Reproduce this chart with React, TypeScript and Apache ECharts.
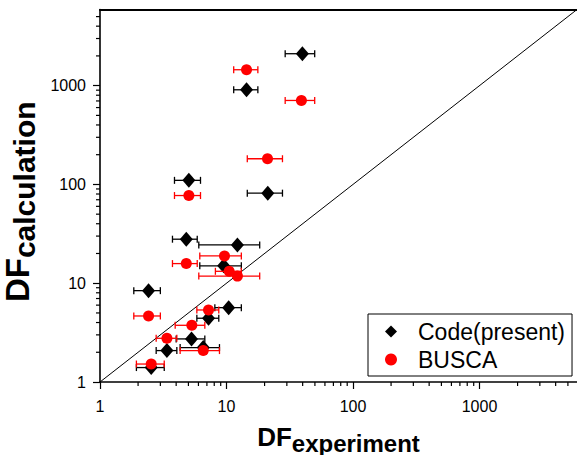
import React, { useEffect, useRef } from "react";
import * as echarts from "echarts";

// Code(present) — black diamonds, horizontal error bars
const codeX = [39.8, 14.4, 5.04, 21.2, 4.81, 12.2, 9.5, 2.42, 10.4, 7.21, 5.29, 6.55, 3.38, 2.54];
const codeY = [2105, 908, 110, 81.6, 27.9, 24.4, 15.0, 8.41, 5.66, 4.42, 2.73, 2.23, 2.08, 1.4];
const codeXLo = [29.1, 11.4, 3.88, 14.6, 3.74, 6.04, 6.15, 1.85, 8.09, 5.83, 4.0, 4.3, 2.78, 1.94];
const codeXHi = [49.8, 17.7, 6.23, 27.7, 5.87, 18.3, 13.1, 3.0, 13.1, 8.69, 6.74, 8.8, 4.05, 3.22];

// BUSCA — red circles, horizontal error bars
const buscaX = [14.4, 39.1, 21.1, 5.04, 4.81, 9.64, 10.5, 12.2, 2.42, 7.21, 5.32, 3.38, 6.55, 2.54];
const buscaY = [1449, 708, 182, 77.2, 15.8, 18.9, 13.2, 11.8, 4.66, 5.36, 3.75, 2.77, 2.08, 1.52];
const buscaXLo = [11.4, 29.1, 14.6, 3.88, 3.74, 6.15, 8.17, 6.04, 1.85, 5.83, 3.93, 2.78, 4.3, 1.94];
const buscaXHi = [17.7, 49.8, 27.7, 6.23, 5.87, 13.1, 13.1, 18.3, 3.0, 8.69, 6.74, 4.05, 8.8, 3.22];

const axisMin = 1;
const axisMax = 5900;
const minorTickValues = [2, 3, 4, 5, 6, 7, 8, 9, 20, 30, 40, 50, 60, 70, 80, 90, 200, 300, 400, 500, 600, 700, 800, 900, 2000, 3000, 4000, 5000];

const FONT = "'Liberation Sans', Arial, sans-serif";

function isPow10(v: number) {
  const l = Math.log10(v);
  return Math.abs(l - Math.round(l)) < 1e-6;
}

function errorBarItem(color: string) {
  return (params: any, api: any) => {
    const y = api.value(1);
    const p1 = api.coord([api.value(2), y]);
    const p2 = api.coord([api.value(3), y]);
    const cap = 3.5;
    const style = { stroke: color, lineWidth: 1.3 };
    return {
      type: "group",
      children: [
        { type: "line", shape: { x1: p1[0], y1: p1[1], x2: p2[0], y2: p2[1] }, style },
        { type: "line", shape: { x1: p1[0], y1: p1[1] - cap, x2: p1[0], y2: p1[1] + cap }, style },
        { type: "line", shape: { x1: p2[0], y1: p2[1] - cap, x2: p2[0], y2: p2[1] + cap }, style },
      ],
    };
  };
}

export default function App() {
  const ref = useRef<HTMLDivElement>(null);
  useEffect(() => {
    if (!ref.current) return;
    const chart = echarts.init(ref.current, null, { renderer: "svg" });

    const minorData = [
      ...minorTickValues.map((v) => [v, axisMin, 0]),
      ...minorTickValues.map((v) => [axisMin, v, 1]),
    ];

    const axisCommon = {
      type: "log" as const,
      logBase: 10,
      min: axisMin,
      max: axisMax,
      splitLine: { show: false },
      axisLine: { show: true, lineStyle: { color: "#000", width: 1.6 } },
      axisTick: { show: true, inside: false, length: 7, lineStyle: { color: "#000", width: 1.2 } },
      axisLabel: {
        color: "#000",
        fontSize: 16,
        fontFamily: FONT,
        showMaxLabel: false,
        formatter: (v: number) => (isPow10(v) ? String(Math.round(v)) : ""),
      },
    };

    chart.setOption({
      animation: false,
      textStyle: { fontFamily: FONT },
      grid: { left: 100, right: 0, top: 9.5, bottom: 73, containLabel: false, outerBoundsMode: "none" },
      legend: {
        orient: "vertical",
        left: 368,
        top: 314,
        padding: [4, 7, 3, 17],
        itemGap: 1,
        itemWidth: 12,
        itemHeight: 12,
        borderColor: "#000",
        borderWidth: 1,
        borderRadius: 0,
        backgroundColor: "#fff",
        textStyle: { fontSize: 23, fontFamily: FONT, color: "#000", lineHeight: 27, padding: [0, 0, 0, 16] },
        data: ["Code(present)", "BUSCA"],
      },
      xAxis: [
        {
          ...axisCommon,
          position: "bottom",
          name: "{a|DF}{b|experiment}",
          nameLocation: "middle",
          nameGap: 37,
          nameTextStyle: {
            rich: {
              a: { fontSize: 26, fontWeight: "bold", fontFamily: FONT, color: "#000" },
              b: { fontSize: 24, fontWeight: "bold", fontFamily: FONT, color: "#000", padding: [12, 0, 0, 0] },
            },
          },
          axisLabel: { ...axisCommon.axisLabel, margin: 16 },
        },
        {
          type: "log",
          logBase: 10,
          min: axisMin,
          max: axisMax,
          position: "top",
          splitLine: { show: false },
          axisLine: { show: true, lineStyle: { color: "#000", width: 2 } },
          axisTick: { show: false },
          axisLabel: { show: false },
        },
      ],
      yAxis: [
        {
          ...axisCommon,
          position: "left",
          name: "{a|DF}{b|calculation}",
          nameLocation: "middle",
          nameGap: 50,
          nameRotate: 90,
          nameTextStyle: {
            padding: [0, 12, 0, 0],
            rich: {
              a: { fontSize: 33, fontWeight: "bold", fontFamily: FONT, color: "#000" },
              b: { fontSize: 30, fontWeight: "bold", fontFamily: FONT, color: "#000", padding: [15, 0, 0, 0] },
            },
          },
          axisLabel: { ...axisCommon.axisLabel, margin: 14 },
        },
      ],
      series: [
        {
          type: "line",
          name: "y=x",
          data: [
            [axisMin, axisMin],
            [axisMax, axisMax],
          ],
          showSymbol: false,
          symbol: "none",
          lineStyle: { color: "#000", width: 1 },
          silent: true,
          z: 1,
        },
        {
          type: "custom",
          name: "minorTicks",
          clip: false,
          silent: true,
          data: minorData,
          encode: { x: 0, y: 1 },
          renderItem: (params: any, api: any) => {
            const p = api.coord([api.value(0), api.value(1)]);
            const kind = api.value(2);
            const len = 4;
            const shape =
              kind === 0
                ? { x1: p[0], y1: p[1], x2: p[0], y2: p[1] + len }
                : { x1: p[0] - len, y1: p[1], x2: p[0], y2: p[1] };
            return { type: "line", shape, style: { stroke: "#000", lineWidth: 1.2 } };
          },
          z: 1,
        },
        {
          type: "custom",
          name: "codeErr",
          clip: false,
          silent: true,
          data: codeX.map((x, i) => [x, codeY[i], codeXLo[i], codeXHi[i]]),
          encode: { x: 0, y: 1 },
          renderItem: errorBarItem("#000"),
          z: 2,
        },
        {
          type: "scatter",
          name: "Code(present)",
          data: codeX.map((x, i) => [x, codeY[i]]),
          symbol: "diamond",
          symbolSize: [13, 15],
          itemStyle: { color: "#000", opacity: 1 },
          z: 3,
        },
        {
          type: "custom",
          name: "buscaErr",
          clip: false,
          silent: true,
          data: buscaX.map((x, i) => [x, buscaY[i], buscaXLo[i], buscaXHi[i]]),
          encode: { x: 0, y: 1 },
          renderItem: errorBarItem("#f00"),
          z: 4,
        },
        {
          type: "scatter",
          name: "BUSCA",
          data: buscaX.map((x, i) => [x, buscaY[i]]),
          symbol: "circle",
          symbolSize: 11,
          itemStyle: { color: "#f00", opacity: 1 },
          z: 5,
        },
      ],
    });
    return () => chart.dispose();
  }, []);

  return (
    <div
      ref={ref}
      style={{ position: "fixed", left: 0, top: 0, width: 577, height: 455, background: "#fff" }}
    />
  );
}
